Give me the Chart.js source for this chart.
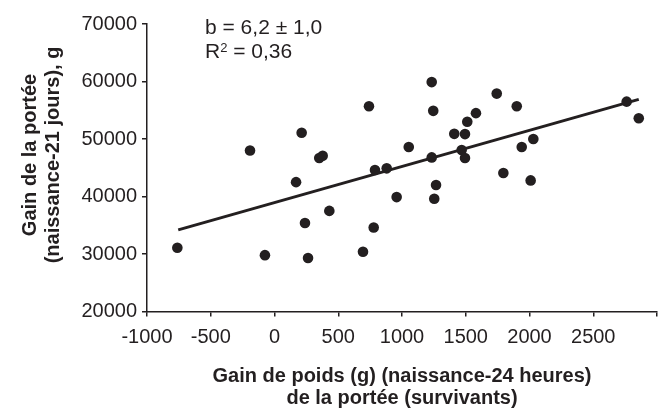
<!DOCTYPE html>
<html>
<head>
<meta charset="utf-8">
<script src="https://cdn.jsdelivr.net/npm/chart.js@4/dist/chart.umd.min.js"></script>
<style>
  html, body { margin: 0; padding: 0; background: #fff; }
</style>
</head>
<body>
<canvas id="chart" width="669" height="410"></canvas>
<script>
const INK = "#231f20";
const FONT = "'Liberation Sans', Arial, Helvetica, sans-serif";

// litter weight gain, birth to 24 h (g)
const GAIN_24H = [
  -762, -192, 213, 351, 378, 169, -75, 263, 239, 430,
  741, 788, 880, 778, 694, 958, 1053, 1233, 1245, 1233,
  1267, 1253, 1410, 1494, 1512, 1580, 1468, 1494, 1743, 1900,
  2030, 1939, 1795, 2009, 2762, 2857,
];
// litter weight gain, birth to 21 days (g)
const GAIN_21D = [
  31100, 48000, 51100, 46700, 47100, 42500, 29800, 29300, 35400, 37500,
  55700, 44600, 44900, 34600, 30400, 39900, 48600, 59900, 54900, 46800,
  42000, 39600, 50900, 50850, 53000, 54500, 48100, 46700, 57900, 55700,
  50000, 48600, 44100, 42800, 56500, 53600,
];
// fitted regression line end points
const FIT_X = [-755, 2857];
const FIT_Y = [34200, 56900];

const X_TITLE = ["Gain de poids (g) (naissance-24 heures)", "de la portée (survivants)"];
const Y_TITLE = ["Gain de la portée", "(naissance-21 jours), g"];
const STAT_LINES = ["b = 6,2 ± 1,0", "R", "2", " = 0,36"];

// regression stats in the top left corner + y axis title (centred a bit above the plot middle)
const annotation = {
  id: "annotation",
  afterDraw(chart) {
    const ctx = chart.ctx;
    ctx.save();
    ctx.fillStyle = INK;
    ctx.textBaseline = "alphabetic";
    ctx.textAlign = "left";
    ctx.font = `21px ${FONT}`;
    ctx.fillText(STAT_LINES[0], 205, 34);
    ctx.fillText(STAT_LINES[1], 205, 58);
    let x = 205 + ctx.measureText(STAT_LINES[1]).width;
    ctx.font = `13px ${FONT}`;
    ctx.fillText(STAT_LINES[2], x, 52);
    x += ctx.measureText(STAT_LINES[2]).width;
    ctx.font = `21px ${FONT}`;
    ctx.fillText(STAT_LINES[3], x, 58);

    ctx.translate(0, 155);
    ctx.rotate(-Math.PI / 2);
    ctx.font = `bold 20px ${FONT}`;
    ctx.textAlign = "center";
    ctx.textBaseline = "middle";
    ctx.fillText(Y_TITLE[0], 0, 30);
    ctx.fillText(Y_TITLE[1], 0, 53);
    ctx.restore();
  },
};

new Chart(document.getElementById("chart"), {
  type: "scatter",
  data: {
    datasets: [
      {
        data: GAIN_24H.map((x, i) => ({ x, y: GAIN_21D[i] })),
        pointRadius: 5.3,
        pointBackgroundColor: INK,
        pointBorderWidth: 0,
      },
      {
        data: FIT_X.map((x, i) => ({ x, y: FIT_Y[i] })),
        showLine: true,
        pointRadius: 0,
        borderColor: INK,
        borderWidth: 3,
      },
    ],
  },
  plugins: [annotation],
  options: {
    responsive: false,
    animation: false,
    layout: { padding: { left: 0, top: 24, right: 12, bottom: 0 } },
    plugins: { legend: { display: false }, tooltip: { enabled: false } },
    scales: {
      x: {
        type: "linear",
        min: -1000,
        max: 3000,
        afterFit(scale) { scale.height = 98.5; },
        border: { display: true, color: INK, width: 1.5 },
        grid: { display: true, drawOnChartArea: false, drawTicks: true, tickLength: 5, color: INK, lineWidth: 1.5 },
        ticks: {
          stepSize: 500,
          padding: 9,
          color: INK,
          font: { family: FONT, size: 20 },
          maxRotation: 0,
          autoSkip: false,
          callback(value) { return value === 3000 ? "" : String(value); },
        },
        title: {
          display: true,
          text: X_TITLE,
          color: INK,
          font: { family: FONT, size: 20, weight: "bold", lineHeight: 1.12 },
          padding: { top: 0, bottom: 0 },
        },
      },
      y: {
        min: 20000,
        max: 70000,
        afterFit(scale) { scale.width = 147; },
        border: { display: true, color: INK, width: 1.5 },
        grid: { display: true, drawOnChartArea: false, drawTicks: true, tickLength: 5, color: INK, lineWidth: 1.5 },
        ticks: {
          stepSize: 10000,
          padding: 5,
          color: INK,
          font: { family: FONT, size: 20 },
          callback(value) { return String(value); },
        },
      },
    },
  },
});
</script>
</body>
</html>
